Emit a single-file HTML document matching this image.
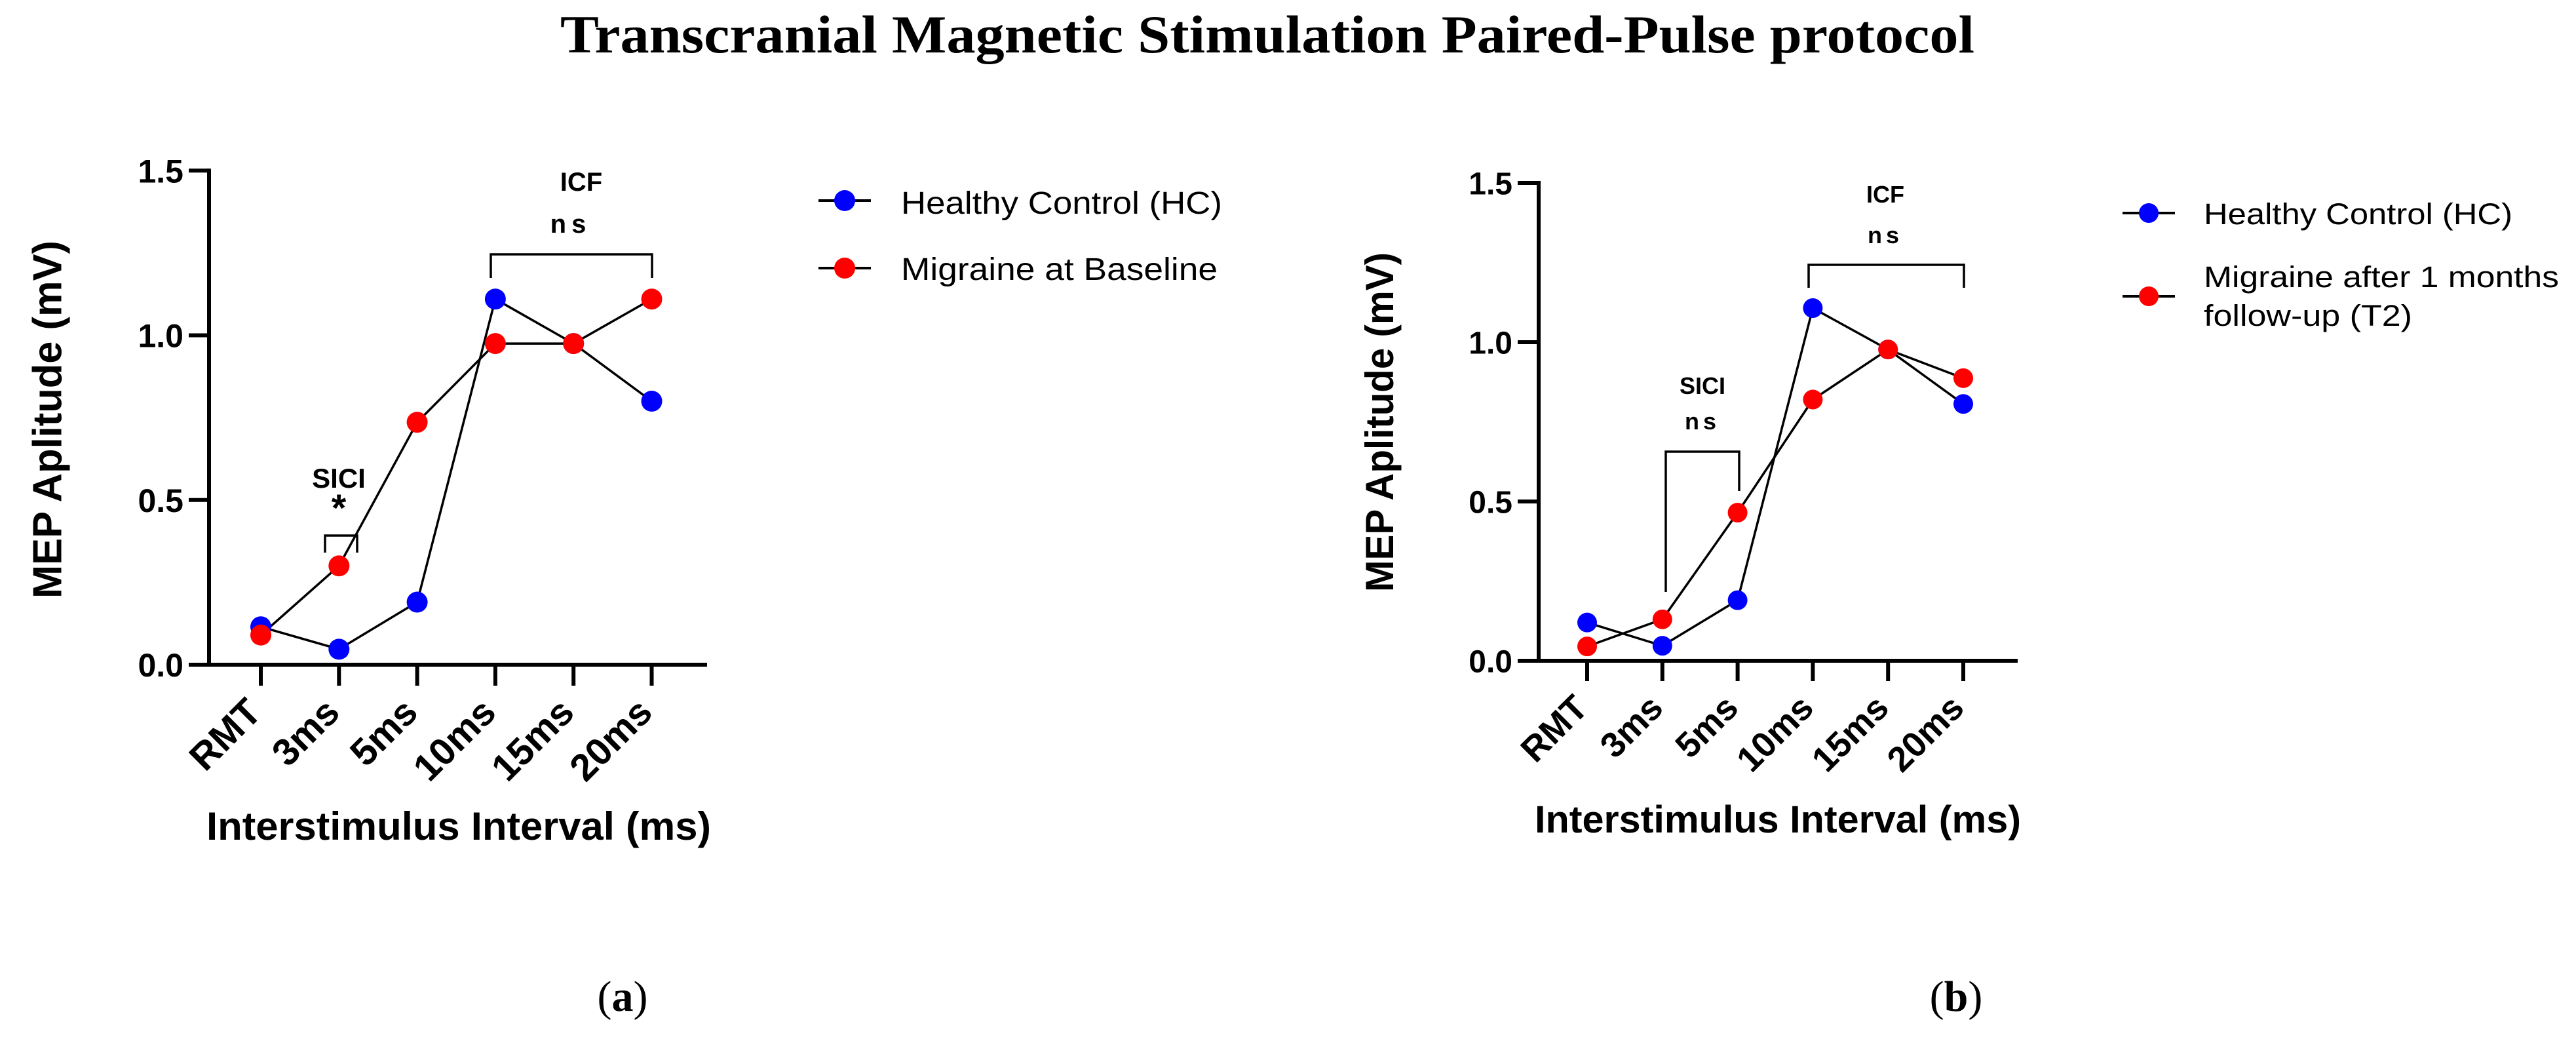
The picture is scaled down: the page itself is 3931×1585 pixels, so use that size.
<!DOCTYPE html>
<html><head><meta charset="utf-8">
<style>
html,body{margin:0;padding:0;background:#fff;}
svg{display:block;}
text{font-family:"Liberation Sans",Arial,sans-serif;}
</style></head>
<body>
<svg id="fig" width="3931" height="1585" viewBox="0 0 3931 1585" xmlns="http://www.w3.org/2000/svg">
  <rect width="3931" height="1585" fill="#fff"/>
  <text x="1934" y="80" text-anchor="middle" font-weight="bold" font-size="82" textLength="2158" lengthAdjust="spacingAndGlyphs" style="font-family:'Liberation Serif',serif">Transcranial Magnetic Stimulation Paired-Pulse protocol</text>
  <text x="950" y="1542" text-anchor="middle" font-size="66" style="font-family:'Liberation Serif',serif">(<tspan font-weight="bold">a</tspan>)</text>
  <text x="2985" y="1542" text-anchor="middle" font-size="66" style="font-family:'Liberation Serif',serif">(<tspan font-weight="bold">b</tspan>)</text>
</svg>
<script>
const categories = ["RMT","3ms","5ms","10ms","15ms","20ms"];
const yTicks = [0.0, 0.5, 1.0, 1.5];
const yTickLabels = ["0.0","0.5","1.0","1.5"];
const hcA = [0.115, 0.047, 0.19, 1.11, 0.975, 0.80];
const migA = [0.09, 0.30, 0.736, 0.975, 0.975, 1.11];
const hcB = [0.12, 0.047, 0.19, 1.107, 0.977, 0.806];
const migB = [0.045, 0.13, 0.465, 0.82, 0.977, 0.887];

const NS = "http://www.w3.org/2000/svg";
const svg = document.getElementById("fig");
function mk(tag, attrs, parent, txt){
  const e = document.createElementNS(NS, tag);
  for (const k in attrs) e.setAttribute(k, attrs[k]);
  if (txt !== undefined) e.textContent = txt;
  (parent || svg).appendChild(e);
  return e;
}

function panel(p){
  const g = mk("g", {});
  
  
  const xs = i => p.x0 + i * p.dx;
  const ys = v => p.y0 - v * p.ky;
  const ya = mk("line", {x1:p.ax, y1:ys(1.5)-3, x2:p.ax, y2:p.y0+3, stroke:"#000","stroke-width":6}, g);
  
  
  const xa = mk("line", {x1:p.stub, y1:p.y0, x2:p.xend, y2:p.y0, stroke:"#000","stroke-width":6}, g);
  
  
  yTicks.forEach((v, i) => {
    mk("line", {x1:p.stub, y1:ys(v), x2:p.ax, y2:ys(v), stroke:"#000","stroke-width":6}, g);
    const t = mk("text", {x:p.stub-8, y:ys(v)+p.yfs*0.36, "text-anchor":"end","font-weight":"bold","font-size":p.yfs}, g, yTickLabels[i]);
    
    
  });
  categories.forEach((c, i) => {
    mk("line", {x1:xs(i), y1:p.y0, x2:xs(i), y2:p.tickBottom, stroke:"#000","stroke-width":6}, g);
    const tx = xs(i) + 4, ty = p.tickBottom + 44;
    const t = mk("text", {x:tx, y:ty, "text-anchor":"end","font-weight":"bold","font-size":p.xfs, transform:`rotate(-45 ${tx} ${ty})`}, g, c);
    
    
  });
  const yt = mk("text", {x:p.ytx, y:p.yty, "text-anchor":"middle","font-weight":"bold","font-size":p.ytfs, textLength:p.ytlen, lengthAdjust:"spacingAndGlyphs", transform:`rotate(-90 ${p.ytx} ${p.yty})`, dy:"0.35em"}, g, "MEP Aplitude (mV)");
  
  
  const xt = mk("text", {x:p.xtx, y:p.xty, "font-weight":"bold","font-size":p.xtfs, textLength:p.xtlen, lengthAdjust:"spacingAndGlyphs"}, g, "Interstimulus Interval (ms)");
  
  
  [[p.hc, "hc"], [p.mig, "migraine"]].forEach(([vals, nm]) => {
    const pl = mk("polyline", {points: vals.map((v, i) => xs(i) + "," + ys(v)).join(" "), fill:"none", stroke:"#000", "stroke-width":3.5}, g);
    
    
  });
  [[p.hc, "#0000ff", "hc"], [p.mig, "#ff0000", "migraine"]].forEach(([vals, col, nm]) => {
    vals.forEach((v, i) => {
      const c = mk("circle", {cx:xs(i), cy:ys(v), r:p.r, fill:col}, g);
      
      
    });
  });
  p.brackets.forEach(b => {
    const pa = mk("path", {d:`M${b.x1},${b.l1} V${b.top} H${b.x2} V${b.l2}`, fill:"none", stroke:"#000","stroke-width":3.5}, g);
    
    
    b.labels.forEach(l => {
      const t = mk("text", {x:l.x, y:l.y, "text-anchor":"middle","font-weight":"bold","font-size":l.fs, "letter-spacing": l.ls || 0}, g, l.t);
      
      
    });
  });
  p.legend.forEach(L => {
    mk("line", {x1:L.mx-40, y1:L.my, x2:L.mx+40, y2:L.my, stroke:"#000","stroke-width":4}, g);
    const c = mk("circle", {cx:L.mx, cy:L.my, r:p.r}, g);
    c.setAttribute("fill", L.col);
    
    
    L.lines.forEach(ln => {
      const t = mk("text", {x:L.tx, y:ln.y, "font-size":L.fs, textLength:ln.w, lengthAdjust:"spacingAndGlyphs"}, g, ln.t);
      
      
    });
  });
}

panel({id:"panel-a", x0:398, dx:119.3, y0:1014, ky:502.5, ax:319, stub:288, xend:1079, tickBottom:1046,
  yfs:50, xfs:58, r:16,
  ytx:72, yty:640, ytfs:62, ytlen:546, xtx:315, xty:1281, xtfs:60, xtlen:770,
  hc:hcA, mig:migA,
  brackets:[
    {name:"sici", x1:496, x2:545, top:817, l1:843, l2:843, labels:[{x:517,y:744,t:"SICI",fs:42},{x:517,y:795,t:"*",fs:58}]},
    {name:"icf", x1:749, x2:995, top:388, l1:424, l2:424, labels:[{x:887,y:291,t:"ICF",fs:40},{x:871,y:355,t:"ns",fs:40,ls:8}]}
  ],
  legend:[
    {mx:1289, my:306, col:"#0000ff", tx:1375, fs:48, lines:[{t:"Healthy Control (HC)", y:326, w:490}]},
    {mx:1289, my:409, col:"#ff0000", tx:1375, fs:48, lines:[{t:"Migraine at Baseline", y:427, w:483}]}
  ]});

panel({id:"panel-b", x0:2422, dx:114.8, y0:1008, ky:486, ax:2348, stub:2316, xend:3079, tickBottom:1039,
  yfs:48, xfs:54, r:15,
  ytx:2105, yty:644, ytfs:60, ytlen:518, xtx:2342, xty:1270, xtfs:58, xtlen:742,
  hc:hcB, mig:migB,
  brackets:[
    {name:"sici", x1:2542, x2:2654, top:689, l1:903, l2:749, labels:[{x:2598,y:601,t:"SICI",fs:36},{x:2598,y:655,t:"ns",fs:36,ls:6}]},
    {name:"icf", x1:2760, x2:2997, top:404, l1:439, l2:439, labels:[{x:2877,y:309,t:"ICF",fs:36},{x:2877,y:371,t:"ns",fs:36,ls:6}]}
  ],
  legend:[
    {mx:3279, my:325, col:"#0000ff", tx:3363, fs:45, lines:[{t:"Healthy Control (HC)", y:342, w:471}]},
    {mx:3279, my:452, col:"#ff0000", tx:3363, fs:45, lines:[{t:"Migraine after 1 months", y:438, w:542},{t:"follow-up (T2)", y:497, w:318}]}
  ]});
</script>
</body></html>
